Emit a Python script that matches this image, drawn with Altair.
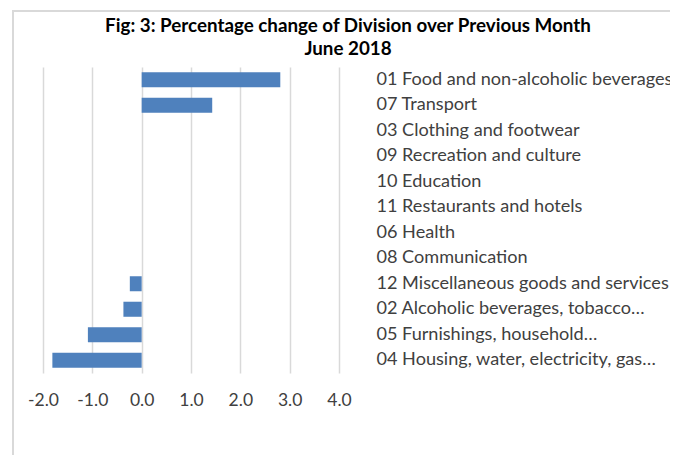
import altair as alt
import pandas as pd

categories = [
    "01 Food and non-alcoholic beverages",
    "07 Transport",
    "03 Clothing and footwear",
    "09 Recreation and culture",
    "10 Education",
    "11 Restaurants and hotels",
    "06 Health",
    "08 Communication",
    "12 Miscellaneous goods and services",
    "02 Alcoholic beverages, tobacco…",
    "05 Furnishings, household…",
    "04 Housing, water, electricity, gas…",
]
values = [2.81, 1.43, 0.0, 0.0, 0.0, 0.0, 0.0, 0.0, -0.24, -0.37, -1.09, -1.81]
x_ticks = [-2, -1, 0, 1, 2, 3, 4]

df = pd.DataFrame({"division": categories, "change": values})

FONT = "Lato"

bars = alt.Chart(df).mark_bar(color="#4f81bd").encode(
    x=alt.X(
        "change:Q",
        scale=alt.Scale(domain=[-2, 4], nice=False, zero=False),
        axis=alt.Axis(
            values=x_ticks,
            format=".1f",
            labelExpr="replace(datum.label, '\u2212', '-')",
            labelFlush=False,
            labelOverlap=False,
            title=None,
            domain=False,
            ticks=False,
            grid=True,
            gridColor="#d9d9d9",
            gridWidth=1.5,
            labelPadding=18,
            labelFont=FONT,
            labelFontSize=17.5,
            labelColor="#404040",
        ),
    ),
    y=alt.Y(
        "division:N",
        sort=categories,
        scale=alt.Scale(paddingInner=0.41, paddingOuter=0.205),
        axis=alt.Axis(
            orient="right",
            title=None,
            domain=False,
            ticks=False,
            grid=False,
            labelAlign="left",
            labelPadding=37,
            labelLimit=0,
            labelFont=FONT,
            labelFontSize=18.1,
            labelColor="#404040",
        ),
    ),
)

border_left = alt.Chart(df).mark_rule(color="#d9d9d9", strokeWidth=2).encode(
    x=alt.value(-30), y=alt.value(-56), y2=alt.value(400)
)
border_top = alt.Chart(df).mark_rule(color="#d9d9d9", strokeWidth=2).encode(
    x=alt.value(-31), x2=alt.value(640), y=alt.value(-56)
)

chart = alt.layer(border_left, border_top, bars).properties(
    width=296,
    height=306,
    autosize=alt.AutoSizeParams(type="none"),
    padding={"left": 35, "top": 59, "right": 331, "bottom": 82},
    title=alt.TitleParams(
        text=["Fig: 3: Percentage change of Division over Previous Month", "June 2018"],
        frame="group",
        anchor="middle",
        dx=157,
        offset=-49,
        font=FONT,
        fontSize=18.8,
        fontWeight="bold",
        color="#000000",
        lineHeight=23,
    ),
).configure_view(stroke=None)

chart.save("out.html", embed_options={"renderer": "svg", "actions": False})
